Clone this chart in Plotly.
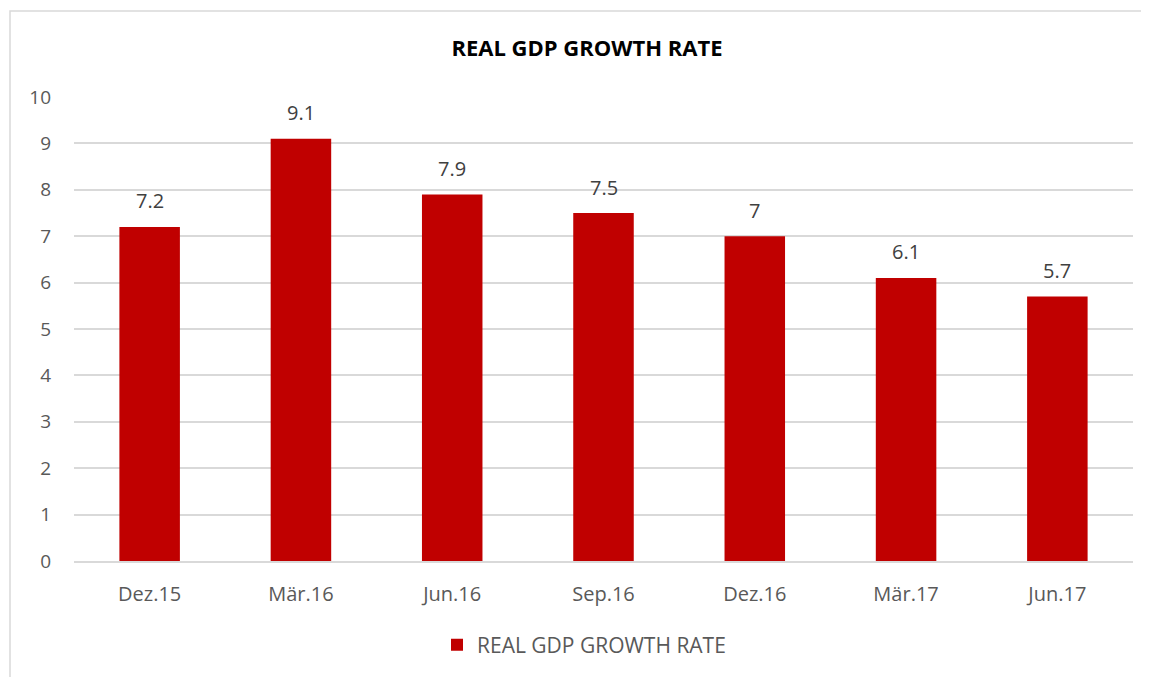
import plotly.graph_objects as go

categories = ["Dez.15", "Mär.16", "Jun.16", "Sep.16", "Dez.16", "Mär.17", "Jun.17"]
values = [7.2, 9.1, 7.9, 7.5, 7, 6.1, 5.7]
labels = ["7.2", "9.1", "7.9", "7.5", "7", "6.1", "5.7"]
series_name = "REAL GDP GROWTH RATE"
title_text = "REAL GDP GROWTH RATE"

# page has an 8px body margin; compensate
OFF = 8
W, H = 1149 - OFF, 677 - OFF
L, R, T = 74 - OFF, 16, 97 - OFF
B = H - (561 - OFF)
pw, ph = W - L - R, H - T - B
base = 561  # page y of zero line

fig = go.Figure()
fig.add_trace(go.Bar(
    x=categories, y=values, name=series_name,
    marker=dict(color="#C00000", line=dict(width=0)),
))

for c, v, t in zip(categories, values, labels):
    fig.add_annotation(x=c, y=v, text=t, showarrow=False, yanchor="middle", yshift=26,
                       font=dict(family="Open Sans", size=20, color="#404040"))

fig.update_layout(
    width=W, height=H,
    margin=dict(l=L, r=R, t=T, b=B),
    paper_bgcolor="white", plot_bgcolor="white",
    bargap=0.6,
    showlegend=True,
    title=dict(text="<b>" + title_text + "</b>", x=(587 - L - OFF) / pw, xref="paper", xanchor="center",
               y=1 - (48 - OFF) / H, yanchor="middle",
               font=dict(family="Open Sans", size=22, color="#000000")),
    legend=dict(orientation="h", x=(584 - 74) / pw, xanchor="center", y=-(645 - base) / ph, yanchor="middle",
                font=dict(family="Open Sans", size=21, color="#595959")),
    xaxis=dict(tickfont=dict(family="Open Sans", size=20, color="#595959"),
               showgrid=False, showline=True, linecolor="#D9D9D9", linewidth=1.5,
               ticks="", ticklabelstandoff=14),
    yaxis=dict(range=[0, 10], dtick=1, tickfont=dict(family="Open Sans", size=19, color="#595959"),
               showgrid=True, gridcolor="#D9D9D9", gridwidth=1.5, zeroline=False,
               showline=False, ticks="", ticklabelstandoff=22),
    shapes=[dict(type="rect", xref="paper", yref="paper",
                 x0=(10 - 74) / pw, x1=(1200 - 74) / pw,
                 y0=-(720 - base) / ph, y1=(base - 11) / ph,
                 line=dict(color="#D9D9D9", width=1.5), fillcolor="rgba(0,0,0,0)", layer="below")],
)

fig.write_html("out.html")
